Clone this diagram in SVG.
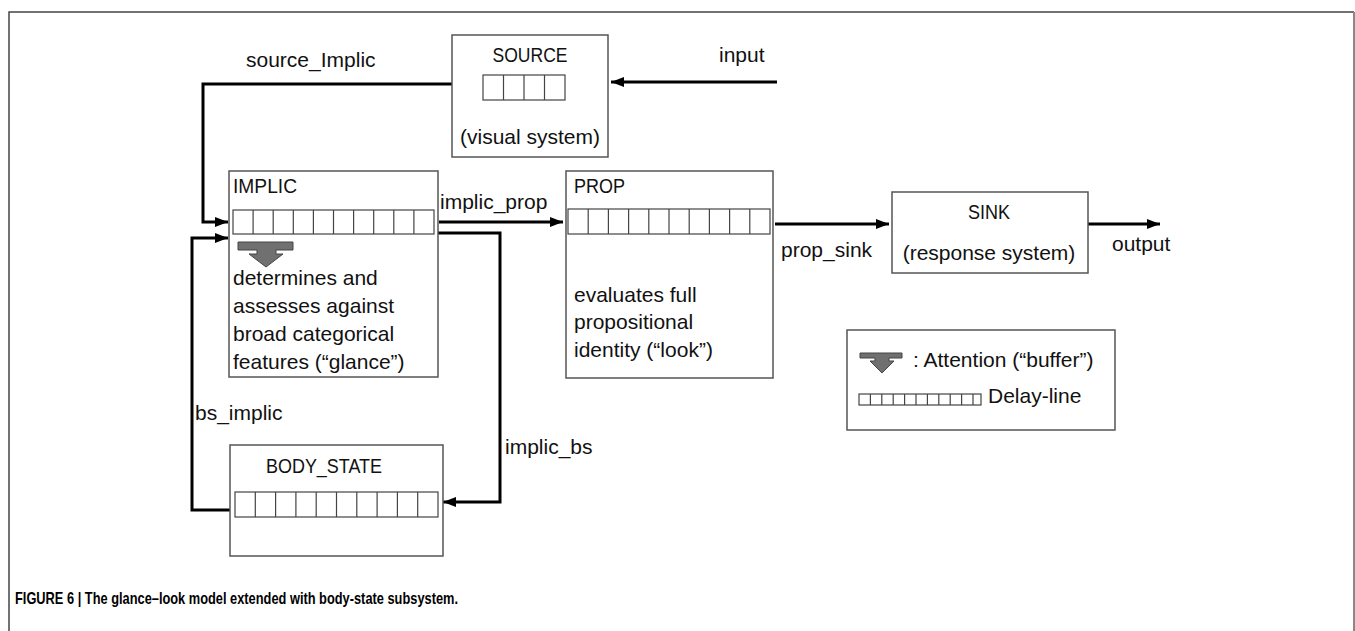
<svg xmlns="http://www.w3.org/2000/svg" width="1355" height="631" viewBox="0 0 1355 631">
<style>
text{font-family:"Liberation Sans",Arial,sans-serif;font-size:21px;fill:#111}
.box{fill:#fff;stroke:#555;stroke-width:1.5}
.cells{fill:none;stroke:#444;stroke-width:1.2}
.conn{fill:none;stroke:#000;stroke-width:3}
.att{fill:#707070;stroke:#444;stroke-width:1}
.cap{font-weight:bold;font-size:16.5px;fill:#000}
</style>
<defs>
<marker id="ah" markerUnits="userSpaceOnUse" markerWidth="14" markerHeight="11" refX="13" refY="5" orient="auto">
<path d="M0,0 L13,5 L0,10 z" fill="#000"/>
</marker>
</defs>
<rect width="1355" height="631" fill="#fff"/>
<g id="frame">
<path d="M9,631 V12 H1354" fill="none" stroke="#444" stroke-width="1.5"/>
<path d="M1354,12 V631" fill="none" stroke="#888" stroke-width="2"/>
</g>
<g id="connectors">
<path class="conn" d="M452,84 H203 V222 H228" marker-end="url(#ah)"/>
<path class="conn" d="M777,82 H611" marker-end="url(#ah)"/>
<path class="conn" d="M439,222 H563" marker-end="url(#ah)"/>
<path class="conn" d="M775,224 H889" marker-end="url(#ah)"/>
<path class="conn" d="M1088,224 H1160" marker-end="url(#ah)"/>
<path class="conn" d="M438,233 H500 V502 H443" marker-end="url(#ah)"/>
<path class="conn" d="M230,510 H192 V238 H228" marker-end="url(#ah)"/>
<text x="246" y="67">source_Implic</text>
<text x="719" y="62">input</text>
<text x="440" y="209">implic_prop</text>
<text x="781" y="257">prop_sink</text>
<text x="1112" y="251">output</text>
<text x="505" y="454">implic_bs</text>
<text x="195" y="420">bs_implic</text>
</g>
<g id="source">
<rect class="box" x="452" y="35" width="156" height="122"/>
<text x="530" y="62" text-anchor="middle" textLength="75" lengthAdjust="spacingAndGlyphs">SOURCE</text>
<rect class="cells" x="483" y="75" width="82" height="25"/>
<path class="cells" d="M503.5,75V100M524,75V100M544.5,75V100"/>
<text x="530" y="144" text-anchor="middle">(visual system)</text>
</g>
<g id="implic">
<rect class="box" x="229" y="171" width="209" height="206"/>
<text x="233" y="193" textLength="64" lengthAdjust="spacingAndGlyphs">IMPLIC</text>
<rect class="cells" x="233" y="210" width="201" height="24"/>
<path class="cells" d="M253.1,210V234M273.2,210V234M293.3,210V234M313.4,210V234M333.5,210V234M353.6,210V234M373.7,210V234M393.8,210V234M413.9,210V234"/>
<path class="att" d="M238,242 H293 V250 H276 V254 H283 L266,267 L249,254 H257 V250 H238 Z"/>
<text x="233" y="285">determines and</text>
<text x="233" y="313">assesses against</text>
<text x="233" y="341">broad categorical</text>
<text x="233" y="369">features (“glance”)</text>
</g>
<g id="prop">
<rect class="box" x="566" y="171" width="207" height="207"/>
<text x="574" y="193" textLength="51" lengthAdjust="spacingAndGlyphs">PROP</text>
<rect class="cells" x="568" y="209" width="202" height="25"/>
<path class="cells" d="M588.2,209V234M608.4,209V234M628.6,209V234M648.8,209V234M669,209V234M689.2,209V234M709.4,209V234M729.6,209V234M749.8,209V234"/>
<text x="574" y="302">evaluates full</text>
<text x="574" y="329">propositional</text>
<text x="574" y="357">identity (“look”)</text>
</g>
<g id="sink">
<rect class="box" x="892" y="192" width="196" height="81"/>
<text x="968" y="219" textLength="42" lengthAdjust="spacingAndGlyphs">SINK</text>
<text x="989" y="260" text-anchor="middle">(response system)</text>
</g>
<g id="body_state">
<rect class="box" x="230" y="445" width="213" height="111"/>
<text x="266" y="473" textLength="116" lengthAdjust="spacingAndGlyphs">BODY_STATE</text>
<rect class="cells" x="235" y="492" width="203" height="25"/>
<path class="cells" d="M255.3,492V517M275.6,492V517M295.9,492V517M316.2,492V517M336.5,492V517M356.8,492V517M377.1,492V517M397.4,492V517M417.7,492V517"/>
</g>
<g id="legend">
<rect class="box" x="847" y="330" width="268" height="100"/>
<path class="att" d="M860,353 H902 V358 H889 V361 H894 L882,373 L870,361 H875 V358 H860 Z"/>
<text x="913" y="367">: Attention (“buffer”)</text>
<rect class="cells" x="859" y="394" width="122" height="11"/>
<path class="cells" d="M870.4,394V405M881.8,394V405M893.2,394V405M904.6,394V405M916,394V405M927.4,394V405M938.8,394V405M950.2,394V405M961.6,394V405M973,394V405"/>
<text x="988" y="403">Delay-line</text>
</g>
<g id="caption">
<text class="cap" x="15" y="604" textLength="443" lengthAdjust="spacingAndGlyphs">FIGURE 6 | The glance–look model extended with body-state subsystem.</text>
</g>
</svg>
